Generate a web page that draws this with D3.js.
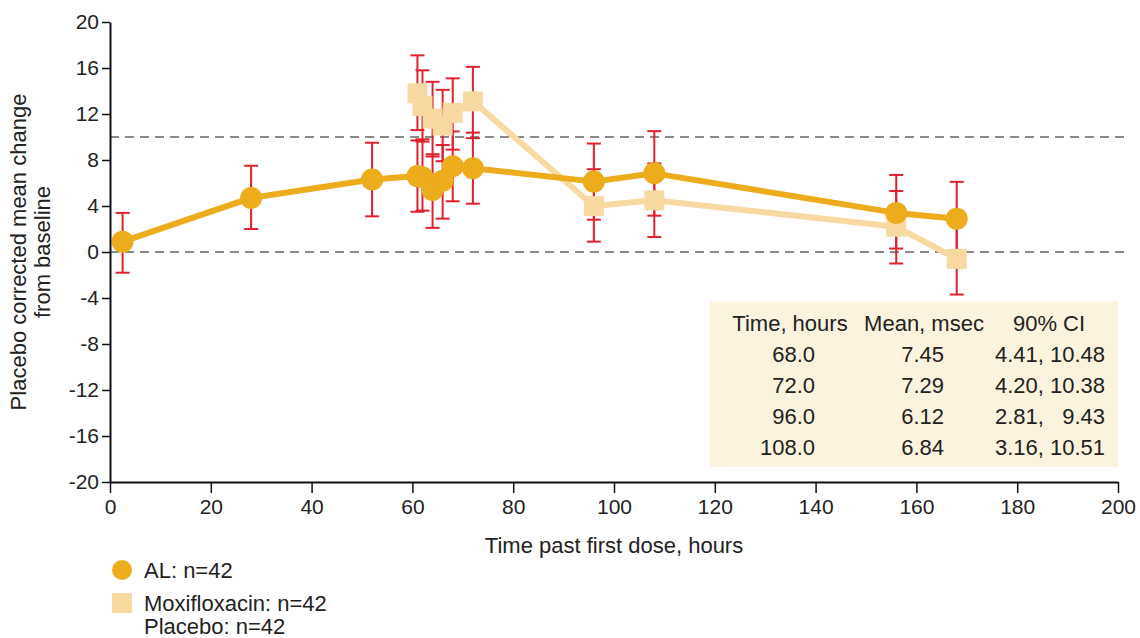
<!DOCTYPE html>
<html>
<head>
<meta charset="utf-8">
<script src="https://cdn.jsdelivr.net/npm/d3@7"></script>
<style>
  body { margin: 0; background: #fff; }
  text { font-family: "Liberation Sans", Arial, sans-serif; fill: #222; }
</style>
</head>
<body>
<div id="vis1"></div>
<script>
const FRAME_HEIGHT = 638;
const FRAME_WIDTH = 1140;
const MARGINS = {left: 110, right: 22, top: 22, bottom: 156};

// data
const AL_HOURS = [2.5, 28, 52, 61, 62, 64, 66, 68, 72, 96, 108, 156, 168];
const AL_MEAN  = [0.9, 4.7, 6.3, 6.6, 6.5, 5.4, 6.2, 7.45, 7.29, 6.12, 6.84, 3.4, 2.9];
const AL_LOW   = [-1.8, 2.0, 3.1, 3.5, 3.6, 2.1, 2.9, 4.41, 4.20, 2.81, 3.16, 0.3, -0.3];
const AL_HIGH  = [3.4, 7.5, 9.5, 9.7, 9.6, 8.5, 9.3, 10.48, 10.38, 9.43, 10.51, 6.7, 6.1];

const MOXI_HOURS = [61, 62, 64, 66, 68, 72, 96, 108, 156, 168];
const MOXI_MEAN  = [13.8, 12.7, 11.6, 11.0, 12.1, 13.1, 4.0, 4.5, 2.2, -0.6];
const MOXI_LOW   = [10.6, 9.8, 8.3, 7.9, 8.9, 9.9, 0.9, 1.3, -1.0, -3.7];
const MOXI_HIGH  = [17.1, 15.8, 14.8, 14.1, 15.1, 16.1, 7.2, 7.7, 5.3, 2.6];

const X_TICKS = [0, 20, 40, 60, 80, 100, 120, 140, 160, 180, 200];
const Y_TICKS = [-20, -16, -12, -8, -4, 0, 4, 8, 12, 16, 20];
const REF_LINES = [0, 10];

const TABLE_HEAD = ["Time, hours", "Mean, msec", "90% CI"];
const TABLE_TIME = ["68.0", "72.0", "96.0", "108.0"];
const TABLE_MEAN = ["7.45", "7.29", "6.12", "6.84"];
const TABLE_CI   = ["4.41, 10.48", "4.20, 10.38", "2.81,   9.43", "3.16, 10.51"];

const AL_COLOR = "#EDAC1C";
const MOXI_COLOR = "#F8D9A2";
const ERR_COLOR = "#E0202C";

const VIS_HEIGHT = FRAME_HEIGHT - MARGINS.top - MARGINS.bottom;
const VIS_WIDTH = FRAME_WIDTH - MARGINS.left - MARGINS.right;

const FRAME1 = d3.select("#vis1")
                  .append("svg")
                    .attr("height", FRAME_HEIGHT)
                    .attr("width", FRAME_WIDTH);

const X_SCALE = d3.scaleLinear()
                  .domain([0, 200])
                  .range([MARGINS.left, MARGINS.left + VIS_WIDTH]);

const Y_SCALE = d3.scaleLinear()
                  .domain([-20, 20])
                  .range([MARGINS.top + VIS_HEIGHT, MARGINS.top]);

const al = AL_HOURS.map((h, i) => ({h: h, m: AL_MEAN[i], lo: AL_LOW[i], hi: AL_HIGH[i]}));
const moxi = MOXI_HOURS.map((h, i) => ({h: h, m: MOXI_MEAN[i], lo: MOXI_LOW[i], hi: MOXI_HIGH[i]}));

// dashed reference lines
FRAME1.selectAll(".ref")
    .data(REF_LINES)
    .enter()
    .append("line")
      .attr("x1", X_SCALE(0))
      .attr("x2", X_SCALE(200) + 12)
      .attr("y1", d => Y_SCALE(d))
      .attr("y2", d => Y_SCALE(d))
      .attr("stroke", "#8a8a8a")
      .attr("stroke-width", 2)
      .attr("stroke-dasharray", "9,6");

// table box
const TX = X_SCALE(119), TY = Y_SCALE(-4.3);
FRAME1.append("rect")
    .attr("x", TX)
    .attr("y", TY)
    .attr("width", X_SCALE(200) - TX)
    .attr("height", Y_SCALE(-18.7) - TY)
    .attr("fill", "#FBF3DE");

// error bars
function errorBars(data) {
  const g = FRAME1.append("g")
      .attr("stroke", ERR_COLOR)
      .attr("stroke-width", 2);
  g.selectAll("line.v")
      .data(data)
      .enter()
      .append("line")
        .attr("x1", d => X_SCALE(d.h))
        .attr("x2", d => X_SCALE(d.h))
        .attr("y1", d => Y_SCALE(d.lo))
        .attr("y2", d => Y_SCALE(d.hi));
  ["lo", "hi"].forEach(k => {
    g.selectAll("line." + k)
        .data(data)
        .enter()
        .append("line")
          .attr("x1", d => X_SCALE(d.h) - 7)
          .attr("x2", d => X_SCALE(d.h) + 7)
          .attr("y1", d => Y_SCALE(d[k]))
          .attr("y2", d => Y_SCALE(d[k]));
  });
}
errorBars(moxi);
errorBars(al);

const LINE = d3.line()
               .x(d => X_SCALE(d.h))
               .y(d => Y_SCALE(d.m));

// moxifloxacin
FRAME1.append("path")
    .datum(moxi)
    .attr("d", LINE)
    .attr("fill", "none")
    .attr("stroke", MOXI_COLOR)
    .attr("stroke-width", 6)
    .attr("stroke-linejoin", "round");

FRAME1.selectAll(".sq")
    .data(moxi)
    .enter()
    .append("rect")
      .attr("x", d => X_SCALE(d.h) - 10)
      .attr("y", d => Y_SCALE(d.m) - 10)
      .attr("width", 20)
      .attr("height", 20)
      .attr("fill", MOXI_COLOR);

// AL
FRAME1.append("path")
    .datum(al)
    .attr("d", LINE)
    .attr("fill", "none")
    .attr("stroke", AL_COLOR)
    .attr("stroke-width", 6)
    .attr("stroke-linejoin", "round");

FRAME1.selectAll(".pt")
    .data(al)
    .enter()
    .append("circle")
      .attr("cx", d => X_SCALE(d.h))
      .attr("cy", d => Y_SCALE(d.m))
      .attr("r", 11)
      .attr("fill", AL_COLOR);

// axes (hyphen minus like the original)
const fmt = d => String(d);
const xAxis = FRAME1.append("g")
    .attr("transform", "translate(0," + (MARGINS.top + VIS_HEIGHT) + ")")
    .call(d3.axisBottom(X_SCALE).tickValues(X_TICKS).tickFormat(fmt).tickSize(11).tickPadding(6).tickSizeOuter(0));

const yAxis = FRAME1.append("g")
    .attr("transform", "translate(" + MARGINS.left + ",0)")
    .call(d3.axisLeft(Y_SCALE).tickValues(Y_TICKS).tickFormat(fmt).tickSize(8).tickPadding(3).tickSizeOuter(0));

[xAxis, yAxis].forEach(a => {
  a.select(".domain").attr("stroke", "#111").attr("stroke-width", 2);
  a.selectAll(".tick line").attr("stroke", "#111").attr("stroke-width", 1.5);
  a.selectAll(".tick text")
    .attr("font-family", "Liberation Sans, Arial, sans-serif")
    .attr("font-size", 21)
    .attr("fill", "#333");
});

// axis titles
FRAME1.append("text")
    .attr("x", X_SCALE(100))
    .attr("y", 553)
    .attr("text-anchor", "middle")
    .attr("font-size", 22)
    .text("Time past first dose, hours");

const yTitle = FRAME1.append("text")
    .attr("transform", "translate(26," + Y_SCALE(0) + ") rotate(-90)")
    .attr("text-anchor", "middle")
    .attr("font-size", 22);
yTitle.append("tspan").attr("x", 0).attr("dy", 0).text("Placebo corrected mean change");
yTitle.append("tspan").attr("x", 0).attr("dy", 24).text("from baseline");

// table text
const HEAD_X = [790, 924, 1049];
FRAME1.selectAll(".th")
    .data(TABLE_HEAD)
    .enter()
    .append("text")
      .attr("x", (d, i) => HEAD_X[i])
      .attr("y", 331)
      .attr("text-anchor", "middle")
      .attr("font-size", 22)
      .text(d => d);

const ROW_Y = [362, 393, 424, 455];
[[TABLE_TIME, 815], [TABLE_MEAN, 944], [TABLE_CI, 1105]].forEach(([col, x]) => {
  FRAME1.selectAll(null)
      .data(col)
      .enter()
      .append("text")
        .attr("x", x)
        .attr("y", (d, i) => ROW_Y[i])
        .attr("text-anchor", "end")
        .attr("font-size", 22)
        .attr("fill", "#333")
        .style("white-space", "pre")
        .text(d => d);
});

// legend
FRAME1.append("circle")
    .attr("cx", 122).attr("cy", 570).attr("r", 10)
    .attr("fill", AL_COLOR);
FRAME1.append("rect")
    .attr("x", 112).attr("y", 593).attr("width", 20).attr("height", 20)
    .attr("fill", MOXI_COLOR);

const LEGEND_TEXT = ["AL: n=42", "Moxifloxacin: n=42", "Placebo: n=42"];
FRAME1.selectAll(".leg")
    .data(LEGEND_TEXT)
    .enter()
    .append("text")
      .attr("x", 144)
      .attr("y", (d, i) => [578, 611, 634][i])
      .attr("font-size", 22)
      .text(d => d);
</script>
</body>
</html>
